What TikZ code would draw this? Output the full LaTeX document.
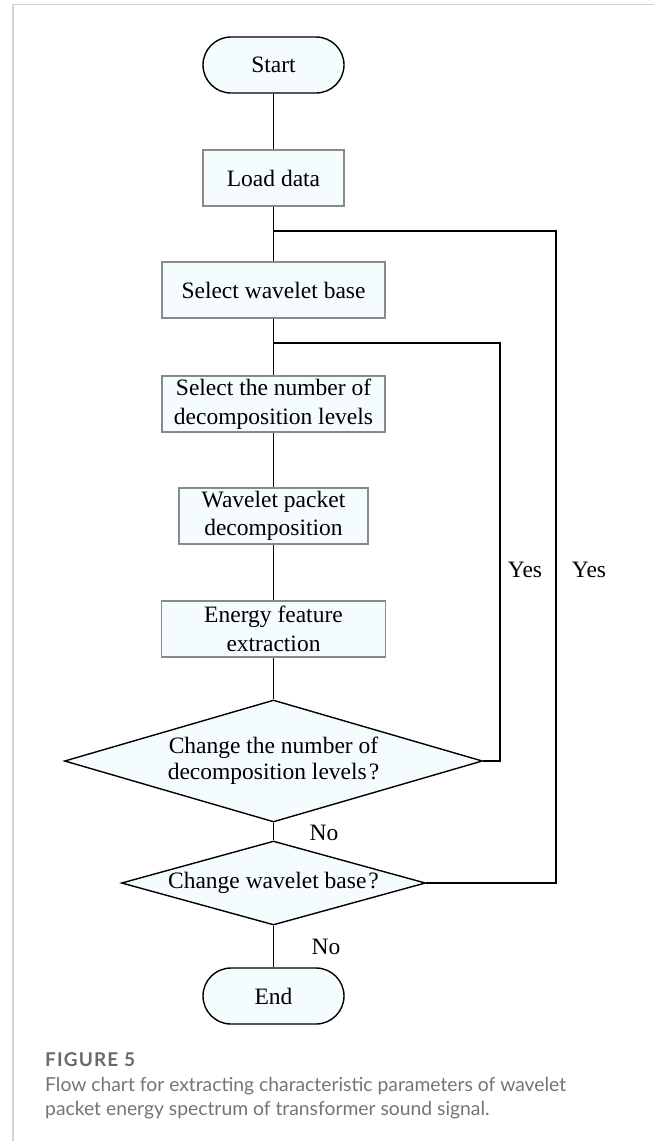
\documentclass[tikz,border=0pt]{standalone}
\usepackage{fontspec}
\setmainfont{Liberation Serif}
\newfontfamily\capfont{Lato}
\newfontfamily\capheadfont[LetterSpace=6]{Lato}
\usetikzlibrary{shapes.geometric}
\definecolor{boxfill}{HTML}{F4FCFD}
\definecolor{boxline}{HTML}{8A8A8A}
\definecolor{framegray}{HTML}{D4D4D4}
\definecolor{capgray}{HTML}{6A6A6A}
\definecolor{captext}{HTML}{747474}
\begin{document}
\begin{tikzpicture}[x=1pt,y=-1pt,
  every node/.style={font=\fontsize{23.5}{28.5}\selectfont},
  terminal/.style={draw=black, line width=1.4pt, fill=boxfill, rounded corners=28pt,
    minimum width=141pt, minimum height=56pt, inner sep=0pt},
  procbox/.style={draw=boxline, line width=1.1pt, fill=boxfill, minimum height=56pt,
    inner sep=0pt, align=center},
  decision/.style={draw=black, line width=1.4pt, fill=boxfill, shape=diamond,
    inner sep=0pt, align=center, font=\fontsize{23.5}{26}\selectfont},
  link/.style={line width=1.4pt},
  tag/.style={inner sep=0pt},
  captionline/.style={anchor=base west, inner sep=0pt, text=captext,
    font=\capfont\fontsize{19.3}{23}\selectfont}]
\useasboundingbox (0,0) rectangle (654,1141);

% page frame
\draw[framegray, line width=1.5pt] (654,4.5) -- (13,4.5) -- (13,1141);

% flow chart blocks
\node[terminal] (start) at (273.5,65) {Start};
\node[procbox, minimum width=141pt] (load) at (273.5,178) {Load data};
\node[procbox, minimum width=223pt] (base) at (273.5,290) {Select wavelet base};
\node[procbox, minimum width=223pt] (levels) at (273.5,404) {Select the number of\\decomposition levels};
\node[procbox, minimum width=189pt] (wpd) at (273.5,516) {Wavelet packet\\decomposition};
\node[procbox, minimum width=224pt] (energy) at (273.5,629) {Energy feature\\extraction};
\node[decision, aspect=3.43, minimum width=418pt, minimum height=122pt] (d1) at (273.5,761)
  {Change the number of\\decomposition levels\kern2pt?};
\node[decision, aspect=3.62, minimum width=304pt, minimum height=84pt] (d2) at (273.5,883)
  {Change wavelet base\kern2pt?};
\node[terminal] (end) at (273.5,996) {End};

% junctions on the main line
\coordinate (j1) at (273.5,231);
\coordinate (j2) at (273.5,343);
\coordinate (r1) at (500,343);
\coordinate (r2) at (556,231);

% main flow
\draw[link] (start) -- (load);
\draw[link] (load) -- (base);
\draw[link] (base) -- (levels);
\draw[link] (levels) -- (wpd);
\draw[link] (wpd) -- (energy);
\draw[link] (energy) -- (d1);
\draw[link] (d1) -- (d2);
\draw[link] (d2) -- (end);

% feedback loops
\draw[link] (d1.east) -| (r1) -- (j2);
\draw[link] (d2.east) -| (r2) -- (j1);

% branch labels
\node[tag] (yes1) at (525,570) {Yes};
\node[tag] (yes2) at (589,570) {Yes};
\node[tag] (no1) at (324,833) {No};
\node[tag] (no2) at (326,947) {No};

% caption
\node[captionline, text=capgray, font=\capheadfont\bfseries\fontsize{19}{23}\selectfont]
  (fig) at (45,1066.5) {FIGURE 5};
\node[captionline] (cap1) at (45,1091.5)
  {Flow chart for extracting characteristic parameters of wavelet};
\node[captionline] (cap2) at (45,1115.5)
  {packet energy spectrum of transformer sound signal.};
\end{tikzpicture}
\end{document}
